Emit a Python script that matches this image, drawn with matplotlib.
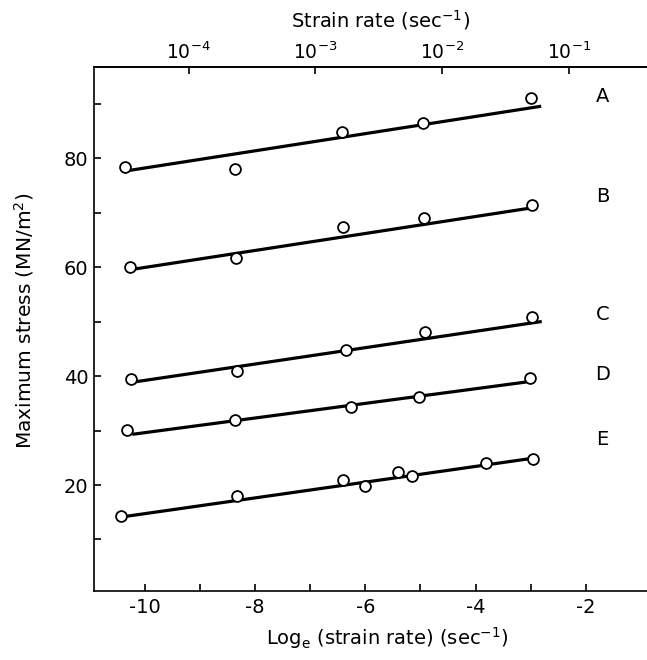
import numpy as np
import matplotlib
matplotlib.use("Agg")
import matplotlib.pyplot as plt

plt.rcParams['font.family'] = ['DejaVu Sans']
plt.rcParams['axes.unicode_minus'] = False
plt.rcParams['mathtext.default'] = 'regular'

# ---- data ----
series_names = ['A', 'B', 'C', 'D', 'E']

A_x = [-10.36, -8.37, -6.43, -4.95, -3.00]
A_y = [78.3, 77.9, 84.8, 86.4, 91.0]
B_x = [-10.27, -8.35, -6.40, -4.94, -2.97]
B_y = [60.0, 61.6, 67.4, 69.0, 71.3]
C_x = [-10.26, -8.33, -6.35, -4.91, -2.97]
C_y = [39.5, 41.0, 44.8, 48.1, 50.8]
D_x = [-10.32, -8.37, -6.26, -5.03, -3.01]
D_y = [30.1, 31.9, 34.3, 36.1, 39.7]
E_x = [-10.43, -8.33, -6.41, -6.01, -5.40, -5.16, -3.82, -2.95]
E_y = [14.4, 17.9, 20.9, 19.9, 22.3, 21.7, 24.0, 24.8]

# fitted straight lines: (x_start, y_start, x_end, y_end)
fit_x0 = [-10.30, -10.21, -10.20, -10.23, -10.38]
fit_y0 = [77.7, 59.6, 38.9, 29.3, 14.2]
fit_x1 = [-2.81, -2.95, -2.80, -3.08, -2.90]
fit_y1 = [89.5, 70.9, 50.0, 38.9, 25.0]

label_y = [91.2, 72.9, 51.2, 40.2, 28.3]

x_ticks = [-10, -8, -6, -4, -2]
x_minor = [-9, -7, -5, -3]
y_ticks = [10, 20, 30, 40, 50, 60, 70, 80, 90]
y_labeled = [20, 40, 60, 80]
top_ticks = [1e-4, 1e-3, 1e-2, 1e-1]
top_labels = ['$10^{-4}$', '$10^{-3}$', '$10^{-2}$', '$10^{-1}$']

# ---- figure ----
W, H = 647, 660
fig = plt.figure(figsize=(W / 100, H / 100), dpi=100)
ax = fig.add_axes([94 / W, 69 / H, 553 / W, 524 / H])

xs = [A_x, B_x, C_x, D_x, E_x]
ys = [A_y, B_y, C_y, D_y, E_y]
for i, name in enumerate(series_names):
    ax.plot([fit_x0[i], fit_x1[i]], [fit_y0[i], fit_y1[i]], color='black',
            lw=2.3, solid_capstyle='butt', zorder=2)
    ax.plot(xs[i], ys[i], linestyle='none', marker='o', ms=7.8,
            mfc='white', mec='black', mew=1.3, zorder=3)
    ax.text(-1.70, label_y[i], name, ha='center', va='center', fontsize=14)

ax.set_xlim(-10.926, -0.889)
ax.set_ylim(0.55, 96.7)

ax.spines['right'].set_visible(False)
for s in ['left', 'bottom', 'top']:
    ax.spines[s].set_linewidth(1.2)

ax.set_xticks(x_ticks)
ax.set_xticklabels([str(v) for v in x_ticks])
ax.set_xticks(x_minor, minor=True)
ax.set_yticks(y_ticks)
ax.set_yticklabels([str(v) if v in y_labeled else '' for v in y_ticks])
ax.tick_params(axis='both', which='both', direction='in', width=1.2,
               labelsize=14)
ax.tick_params(axis='x', which='major', length=5, pad=5)
ax.tick_params(axis='x', which='minor', length=5)
ax.tick_params(axis='y', length=5, pad=4)

ax.set_xlabel('Log$_e$ (strain rate) (sec$^{-1}$)', fontsize=14)
ax.xaxis.set_label_coords(0.53, -0.065)
ax.set_ylabel('Maximum stress (MN/m$^2$)', fontsize=14.5)
ax.yaxis.set_label_coords(-0.105, 0.515)

sec = ax.secondary_xaxis('top', functions=(np.exp, np.log))
sec.set_xticks(top_ticks)
sec.set_xticklabels(top_labels)
sec.tick_params(direction='in', length=5, width=1.2, labelsize=13.5, pad=3)
sec.xaxis.set_minor_locator(matplotlib.ticker.NullLocator())
sec.spines['top'].set_linewidth(1.2)

fig.text(381 / W, 1 - 20 / H, 'Strain rate (sec$^{-1}$)', fontsize=14,
         ha='center', va='center')

fig.savefig('out.png', dpi=100)
